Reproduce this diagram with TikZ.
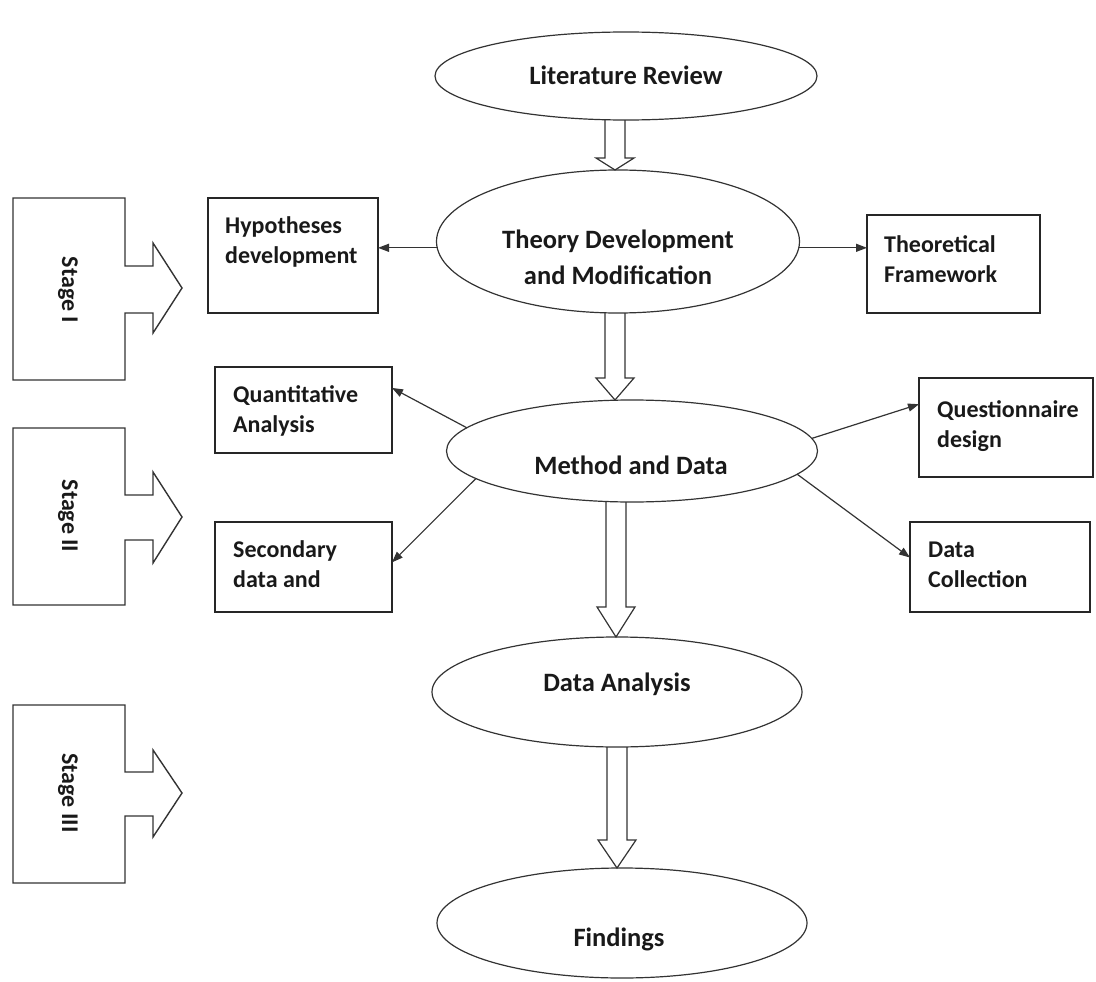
\documentclass[tikz,border=0pt]{standalone}
\usepackage{fontspec}
\setmainfont{Carlito}
\usetikzlibrary{shapes.geometric,arrows.meta,calc}

% open block arrow running down from one oval to the next
% #1 source, #2 target, #3 x of the shaft axis, #4 head length
\newcommand\blockarrow[4]{%
  \draw[hollow] let \p1=(#1.south), \p2=(#2.north), \p3=(#3,0) in
    (\x3-10pt,\y1) -- (\x3-10pt,\y2+#4pt) -- (\x3-19pt,\y2+#4pt) -- (\x3,\y2)
    -- (\x3+19pt,\y2+#4pt) -- (\x3+10pt,\y2+#4pt) -- (\x3+10pt,\y1);}

\begin{document}
\begin{tikzpicture}[x=1pt,y=-1pt,
  every node/.style={font=\fontsize{24}{30}\selectfont\bfseries, text=black!90},
  oval/.style={draw=black!80, line width=1.2pt, ellipse, inner sep=0pt, outer sep=0pt},
  rbox/.style={draw=black!85, line width=1.4pt, rectangle, inner sep=0pt, outer sep=0pt},
  boxtext/.style={inner sep=0pt, align=left, anchor=west},
  ctext/.style={inner sep=0pt, align=center},
  ovaltext/.style={inner sep=0pt, align=center, font=\fontsize{26.5}{36}\selectfont\bfseries},
  link/.style={draw=black!80, line width=1.2pt, -{Triangle[length=11pt,width=8pt]}},
  hollow/.style={draw=black!80, line width=1.2pt, line join=miter},
  stageshape/.style={draw=black!80, line width=1.4pt},
]
\useasboundingbox (0,0) rectangle (1096,982);

% ---- central column ----
\node[oval, minimum width=382pt, minimum height=88pt] (LR) at (626,76) {};
\node[ovaltext] (LRt) at (626,75) {Literature Review};

\node[oval, minimum width=363pt, minimum height=143pt] (T) at (618,241.5) {};
\node[ovaltext] (Tt) at (618,257) {Theory Development\\and Modification};

\node[oval, minimum width=371pt, minimum height=102pt] (M) at (632,451) {};
\node[ovaltext] (Mt) at (631,465) {Method and Data};

\node[oval, minimum width=370pt, minimum height=110pt] (DA) at (617,692) {};
\node[ovaltext] (DAt) at (617,684) {Data Analysis};

\node[oval, minimum width=370pt, minimum height=110pt] (F) at (622,923) {};
\node[ovaltext] (Ft) at (619,939) {Findings};

% ---- side boxes ----
\node[rbox, minimum width=170pt, minimum height=115pt] (H) at (293,255.5) {};
\node[boxtext] (Ht) at (225,242) {Hypotheses\\development};

\node[rbox, minimum width=173pt, minimum height=98pt] (TF) at (953.5,264) {};
\node[boxtext] (TFt) at (884,259) {Theoretical\\Framework};

\node[rbox, minimum width=177pt, minimum height=86pt] (QA) at (303.5,410) {};
\node[boxtext] (QAt) at (233,411) {Quantitative\\Analysis};

\node[rbox, minimum width=177pt, minimum height=90pt] (SD) at (303.5,567) {};
\node[boxtext] (SDt) at (233,564) {Secondary\\data and};

\node[rbox, minimum width=174pt, minimum height=99pt] (Q) at (1006,427.5) {};
\node[boxtext] (Qt) at (937,426) {Questionnaire\\design};

\node[rbox, minimum width=180pt, minimum height=90pt] (DC) at (1000,567) {};
\node[boxtext] (DCt) at (928,565) {Data\\Collection};

% ---- block arrows between the stages of the column ----
\blockarrow{LR}{T}{615}{12}
\blockarrow{T}{M}{615}{22}
\blockarrow{M}{DA}{616}{30}
\blockarrow{DA}{F}{617}{28}

% ---- thin connectors ----
\draw[link] (T.182) -- (T.182 -| H.east);
\draw[link] (T.-2) -- (T.-2 -| TF.west);
\draw[link] (M.172) -- (QA.14);
\draw[link] (M.190) -- (SD.3);
\draw[link] (M.4) -- (Q.165);
\draw[link] (M.-8) -- (DC.174);

% ---- stage markers ----
\draw[stageshape] (13,198) -- (125,198) -- (125,266) -- (153,266) -- (153,243)
  -- (182,288) -- (153,333) -- (153,313) -- (125,313) -- (125,380) -- (13,380) -- cycle;
\node[ctext, rotate=-90] (S1) at (68,290) {Stage I};

\draw[stageshape] (13,428) -- (125,428) -- (125,495) -- (153,495) -- (153,472)
  -- (182,517) -- (153,563) -- (153,540) -- (125,540) -- (125,605) -- (13,605) -- cycle;
\node[ctext, rotate=-90] (S2) at (68,516) {Stage II};

\draw[stageshape] (13,705) -- (125,705) -- (125,772) -- (153,772) -- (153,750)
  -- (182,793) -- (153,837) -- (153,816) -- (125,816) -- (125,883) -- (13,883) -- cycle;
\node[ctext, rotate=-90] (S3) at (68,793) {Stage III};
\end{tikzpicture}
\end{document}
